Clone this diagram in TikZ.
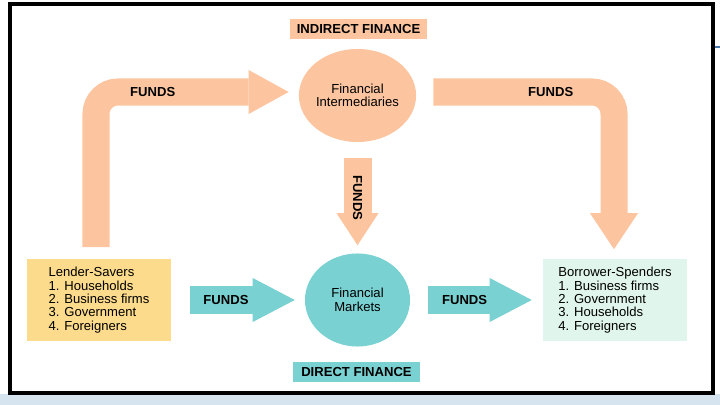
\documentclass[tikz,border=0pt]{standalone}
\usepackage{fontspec}
\setmainfont{Liberation Sans}
\usetikzlibrary{shapes.geometric, arrows.meta, calc}

\definecolor{peachfill}{RGB}{252,197,160}
\definecolor{tealfill}{RGB}{122,209,210}
\definecolor{saverfill}{RGB}{253,219,140}
\definecolor{spenderfill}{RGB}{224,246,236}
\definecolor{slideblue}{RGB}{214,228,240}
\definecolor{titleblue}{RGB}{70,120,170}

\begin{document}
\begin{tikzpicture}[
    x=0.025cm, y=-0.025cm,
    every node/.style = {font=\fontsize{9.3}{9.5}\selectfont},
    sector/.style = {rectangle, fill=#1, align=left, minimum width=3.6cm, minimum height=2.025cm, inner sep=0pt},
    market/.style = {ellipse, fill=#1, align=center, minimum width=2.625cm, minimum height=2.325cm, inner sep=0pt},
    tag/.style = {rectangle, fill=#1, minimum height=0.5cm, inner sep=0pt, font=\fontsize{9.3}{9.5}\selectfont\bfseries},
    funds/.style = {inner sep=0pt, font=\fontsize{9.3}{9.5}\selectfont\bfseries},
    indirect/.style = {draw=peachfill, line width=0.675cm, rounded corners=0.55cm},
    direct/.style = {draw=tealfill, line width=0.7cm}]

    % slide background and frame
    \fill[white] (0,0) rectangle (720,405);
    \useasboundingbox (0,0) rectangle (720,405);
    \fill[slideblue] (0,394) rectangle (720,405);
    \draw[titleblue, line width=0.03cm] (715,47) -- (720,47);
    \draw[line width=0.1cm] (10,4) rectangle (713,393);

    \node[tag=peachfill, minimum width=3.425cm] (IF) at (358.5,29.5) {INDIRECT FINANCE};
    \node[market=peachfill] (FI) at (357.5,95.5) {Financial\\Intermediaries};
    \node[market=tealfill] (FM) at (357.5,300) {Financial\\Markets};
    \node[tag=tealfill, minimum width=3.175cm] (DF) at (356.5,372) {DIRECT FINANCE};
    \node[sector=saverfill] (LS) at (99,300) {Lender-Savers\\1. Households\\2. Business firms\\3. Government\\4. Foreigners};
    \node[sector=spenderfill] (BS) at (615,300) {Borrower-Spenders\\1. Business firms\\2. Government\\3. Households\\4. Foreigners};

    \draw[indirect, -{Triangle[width=1.1cm, length=1cm, line width=0pt]}, shorten <=0.3cm, shorten >=0.25cm]
        ([xshift=-0.075cm]LS.north) |- node[funds, pos=0.64] {FUNDS} ($(FI.west)+(0,-3.5)$);
    \draw[indirect, -{Triangle[width=1.2cm, length=0.9cm, line width=0pt]}, shorten <=0.425cm, shorten >=0.25cm]
        ($(FI.east)+(0,-3.5)$) -| node[funds, pos=0.34] {FUNDS} ([xshift=-0.025cm]BS.north);
    \draw[indirect, line width=0.7cm, -{Triangle[width=1.05cm, length=0.8cm, line width=0pt]}, shorten <=0.4cm, shorten >=0.2cm]
        (FI.south) -- node[funds, rotate=-90] {FUNDS} (FM.north);
    \draw[direct, -{Triangle[width=1.1cm, length=1.05cm, line width=0pt]}, shorten <=0.475cm, shorten >=0.25cm]
        (LS.east) -- node[funds, pos=0.41] {FUNDS} (FM.west);
    \draw[direct, -{Triangle[width=1.1cm, length=1.05cm, line width=0pt]}, shorten <=0.45cm, shorten >=0.275cm]
        (FM.east) -- node[funds, pos=0.41] {FUNDS} (BS.west);
\end{tikzpicture}
\end{document}
